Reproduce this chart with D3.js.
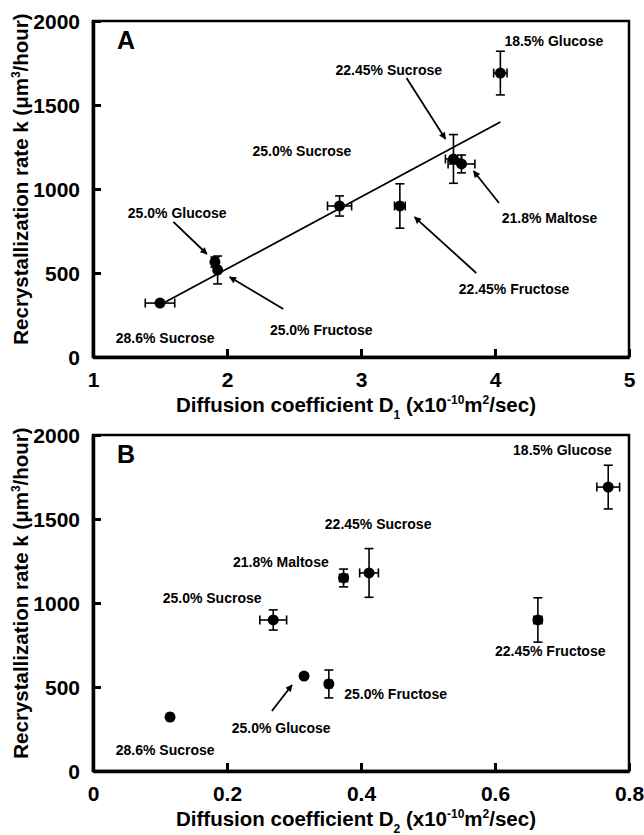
<!DOCTYPE html>
<html>
<head>
<meta charset="utf-8">
<script src="https://cdn.jsdelivr.net/npm/d3@7"></script>
<style>
  body { margin: 0; background: #fff; }
  svg text { font-family: "Liberation Sans", Arial, sans-serif; fill: #000; }
  .tick text { font-size: 21px; font-weight: bold; }
  .lbl { font-size: 14px; font-weight: bold; }
  .ttl { font-size: 20.5px; font-weight: bold; }
</style>
</head>
<body>
<div id="chart"></div>
<script>
// samples and measured values (k shared by both panels)
var samples  = ["28.6% Sucrose", "25.0% Glucose", "25.0% Fructose", "25.0% Sucrose",
                "22.45% Fructose", "22.45% Sucrose", "21.8% Maltose", "18.5% Glucose"];
var rateK    = [321, 565, 518, 899, 899, 1179, 1149, 1690];
var rateErrA = [8, 30, 83, 60, 132, 145, 53, 130];
var rateErrB = [8, 0, 83, 60, 132, 145, 53, 130];
var D1       = [1.50, 1.91, 1.93, 2.84, 3.29, 3.69, 3.75, 4.04];
var D1err    = [0.11, 0.02, 0.02, 0.09, 0.04, 0.06, 0.10, 0.05];
var D2       = [0.115, 0.315, 0.352, 0.269, 0.664, 0.412, 0.374, 0.769];
var D2err    = [0.004, 0, 0.005, 0.02, 0.006, 0.014, 0.006, 0.017];
var fitA     = [[1.54, 327], [4.04, 1399]];   // linear fit, panel A

var yTicks  = [0, 500, 1000, 1500, 2000];
var xTicksA = [1, 2, 3, 4, 5];
var xTicksB = [0, 0.2, 0.4, 0.6, 0.8];

// annotation placement (data units)
var labelsA = [
  {t: "18.5% Glucose",   x: 4.07, y: 1851},
  {t: "22.45% Sucrose",  x: 2.81, y: 1679},
  {t: "25.0% Sucrose",   x: 2.19, y: 1196},
  {t: "25.0% Glucose",   x: 1.26, y: 827},
  {t: "28.6% Sucrose",   x: 1.17, y: 83},
  {t: "25.0% Fructose",  x: 2.32, y: 131},
  {t: "22.45% Fructose", x: 3.73, y: 375},
  {t: "21.8% Maltose",   x: 4.05, y: 798}
];
var arrowsA = [
  [3.34, 1661, 3.63, 1298],
  [4.03, 917, 3.84, 1107],
  [3.86, 500, 3.40, 833],
  [2.42, 286, 2.02, 476],
  [1.60, 804, 1.85, 613]
];
var labelsB = [
  {t: "18.5% Glucose",   x: 0.627, y: 1881},
  {t: "22.45% Sucrose",  x: 0.346, y: 1440},
  {t: "21.8% Maltose",   x: 0.209, y: 1214},
  {t: "25.0% Sucrose",   x: 0.104, y: 1000},
  {t: "22.45% Fructose", x: 0.600, y: 684},
  {t: "25.0% Fructose",  x: 0.375, y: 429},
  {t: "25.0% Glucose",   x: 0.207, y: 226},
  {t: "28.6% Sucrose",   x: 0.034, y: 95}
];
var arrowsB = [
  [0.267, 357, 0.297, 512]
];

var W = 644, H = 835;
var svg = d3.select("#chart").append("svg")
    .attr("width", W).attr("height", H);

svg.append("defs").append("marker")
    .attr("id", "arr")
    .attr("viewBox", "0 0 10 10")
    .attr("refX", 9).attr("refY", 5)
    .attr("markerWidth", 8).attr("markerHeight", 7)
    .attr("markerUnits", "userSpaceOnUse")
    .attr("orient", "auto")
  .append("path")
    .attr("d", "M0,0 L10,5 L0,10 z")
    .attr("fill", "#000");

function panel(top, xDomain, xTicks, xVals, xErrs, yErrs, fmt, letter, sub, labels, arrows, fit) {
  var left = 93, right = 629, bottom = top + 336;
  var x = d3.scaleLinear().domain(xDomain).range([left, right]);
  var y = d3.scaleLinear().domain([0, 2000]).range([bottom, top]);
  var g = svg.append("g");

  // frame
  g.append("rect")
      .attr("x", left).attr("y", top)
      .attr("width", right - left).attr("height", bottom - top)
      .attr("fill", "none").attr("stroke", "#000").attr("stroke-width", 2.5);

  var xAxis = g.append("g")
      .attr("transform", "translate(0," + bottom + ")")
      .call(d3.axisBottom(x).tickValues(xTicks).tickFormat(fmt)
            .tickSizeInner(-8).tickSizeOuter(0).tickPadding(15));
  var yAxis = g.append("g")
      .attr("transform", "translate(" + left + ",0)")
      .call(d3.axisLeft(y).tickValues(yTicks).tickFormat(d3.format("d"))
            .tickSizeInner(-8).tickSizeOuter(0).tickPadding(13));
  [xAxis, yAxis].forEach(function(a) {
    a.select(".domain").attr("stroke-width", 3.5);
    a.selectAll(".tick line").attr("stroke-width", 3);
  });
  yAxis.selectAll(".tick text").attr("dy", "0.35em");

  // fit line
  if (fit) {
    g.append("path")
        .attr("d", d3.line().x(function(d) { return x(d[0]); }).y(function(d) { return y(d[1]); })(fit))
        .attr("fill", "none").attr("stroke", "#000").attr("stroke-width", 1.8);
  }

  // error bars + points
  var pts = samples.map(function(s, i) {
    return {name: s, x: xVals[i], xe: xErrs[i], y: rateK[i], ye: yErrs[i]};
  });
  var eb = g.selectAll(".eb").data(pts).enter().append("g").attr("class", "eb")
      .attr("stroke", "#000").attr("stroke-width", 1.6);
  eb.filter(function(d) { return d.ye > 0; }).each(function(d) {
    var s = d3.select(this);
    s.append("line").attr("x1", x(d.x)).attr("x2", x(d.x))
        .attr("y1", y(d.y - d.ye)).attr("y2", y(d.y + d.ye));
    s.append("line").attr("x1", x(d.x) - 4.5).attr("x2", x(d.x) + 4.5)
        .attr("y1", y(d.y - d.ye)).attr("y2", y(d.y - d.ye));
    s.append("line").attr("x1", x(d.x) - 4.5).attr("x2", x(d.x) + 4.5)
        .attr("y1", y(d.y + d.ye)).attr("y2", y(d.y + d.ye));
  });
  eb.filter(function(d) { return d.xe > 0; }).each(function(d) {
    var s = d3.select(this);
    s.append("line").attr("x1", x(d.x - d.xe)).attr("x2", x(d.x + d.xe))
        .attr("y1", y(d.y)).attr("y2", y(d.y));
    s.append("line").attr("x1", x(d.x - d.xe)).attr("x2", x(d.x - d.xe))
        .attr("y1", y(d.y) - 4.5).attr("y2", y(d.y) + 4.5);
    s.append("line").attr("x1", x(d.x + d.xe)).attr("x2", x(d.x + d.xe))
        .attr("y1", y(d.y) - 4.5).attr("y2", y(d.y) + 4.5);
  });
  g.selectAll(".pt").data(pts).enter().append("circle")
      .attr("class", "pt")
      .attr("cx", function(d) { return x(d.x); })
      .attr("cy", function(d) { return y(d.y); })
      .attr("r", 5.5).attr("fill", "#000");

  // annotations
  g.selectAll(".lbl").data(labels).enter().append("text")
      .attr("class", "lbl")
      .attr("x", function(d) { return x(d.x); })
      .attr("y", function(d) { return y(d.y); })
      .text(function(d) { return d.t; });
  g.selectAll(".arw").data(arrows).enter().append("line")
      .attr("x1", function(d) { return x(d[0]); })
      .attr("y1", function(d) { return y(d[1]); })
      .attr("x2", function(d) { return x(d[2]); })
      .attr("y2", function(d) { return y(d[3]); })
      .attr("stroke", "#000").attr("stroke-width", 1.8)
      .attr("marker-end", "url(#arr)");

  g.append("text")
      .attr("x", left + 24).attr("y", top + 28)
      .style("font-size", "25px").style("font-weight", "bold")
      .text(letter);

  // axis titles
  var yt = g.append("text").attr("class", "ttl")
      .attr("text-anchor", "middle")
      .attr("transform", "translate(28," + ((top + bottom) / 2 - 10) + ") rotate(-90)");
  yt.append("tspan").text("Recrystallization rate k (\u03bcm");
  yt.append("tspan").attr("dy", -8).style("font-size", "12px").text("3");
  yt.append("tspan").attr("dy", 8).text("/hour)");

  var xt = g.append("text").attr("class", "ttl")
      .attr("text-anchor", "middle")
      .attr("x", (left + right) / 2 - 5).attr("y", bottom + 55);
  xt.append("tspan").text("Diffusion coefficient D");
  xt.append("tspan").attr("dy", 7).style("font-size", "12px").text(sub);
  xt.append("tspan").attr("dy", -7).text(" (x10");
  xt.append("tspan").attr("dy", -8).style("font-size", "12px").text("-10");
  xt.append("tspan").attr("dy", 8).text("m");
  xt.append("tspan").attr("dy", -8).style("font-size", "12px").text("2");
  xt.append("tspan").attr("dy", 8).text("/sec)");
}

panel(21, [1, 5], xTicksA, D1, D1err, rateErrA, d3.format("d"), "A", "1", labelsA, arrowsA, fitA);
panel(435, [0, 0.8], xTicksB, D2, D2err, rateErrB, function(d) { return d === 0 ? "0" : d3.format(".1f")(d); },
      "B", "2", labelsB, arrowsB, null);
</script>
</body>
</html>
